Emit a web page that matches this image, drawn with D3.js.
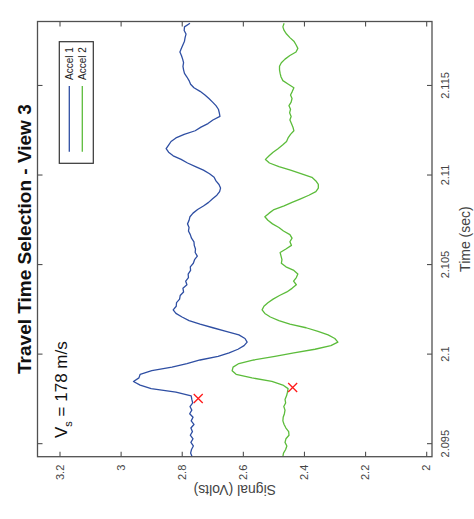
<!DOCTYPE html>
<html>
<head>
<meta charset="utf-8">
<script src="https://cdn.jsdelivr.net/npm/d3@7"></script>
<style>
  html, body { margin: 0; padding: 0; background: #fff; }
  svg { display: block; font-family: "Liberation Sans", Arial, Helvetica, sans-serif; }
</style>
</head>
<body>
<svg id="chart" width="474" height="519"></svg>
<script>
// ---- data ----
const titleText = "Travel Time Selection - View 3";
const xLabel = "Time (sec)";
const yLabel = "Signal (Volts)";
const seriesNames = ["Accel 1", "Accel 2"];
const seriesColors = ["#2f4fa3", "#5cbc3b"];

const timeTicks = [2.095, 2.1, 2.105, 2.11, 2.115];
const timeTickLabels = ["2.095", "2.1", "2.105", "2.11", "2.115"];
const signalTicks = [2, 2.2, 2.4, 2.6, 2.8, 3, 3.2];
const signalTickLabels = ["2", "2.2", "2.4", "2.6", "2.8", "3", "3.2"];

const time = [
  2.0943, 2.0945, 2.0947, 2.0949, 2.0951, 2.0953, 2.0955, 2.0957, 2.0959, 2.0961,
  2.0963, 2.0965, 2.0967, 2.0969, 2.0971, 2.0973, 2.0975, 2.0977, 2.0979, 2.0981,
  2.0983, 2.0985, 2.0987, 2.0989, 2.0991, 2.0993, 2.0995, 2.0997, 2.0999, 2.1001,
  2.1003, 2.1005, 2.1007, 2.1009, 2.1011, 2.1013, 2.1015, 2.1017, 2.1019, 2.1021,
  2.1023, 2.1025, 2.1027, 2.1029, 2.1031, 2.1033, 2.1035, 2.1037, 2.1039, 2.1041,
  2.1043, 2.1045, 2.1047, 2.1049, 2.1051, 2.1053, 2.1055, 2.1057, 2.1059, 2.1061,
  2.1063, 2.1065, 2.1067, 2.1069, 2.1071, 2.1073, 2.1075, 2.1077, 2.1079, 2.1081,
  2.1083, 2.1085, 2.1087, 2.1089, 2.1091, 2.1093, 2.1095, 2.1097, 2.1099, 2.1101,
  2.1103, 2.1105, 2.1107, 2.1109, 2.1111, 2.1113, 2.1115, 2.1117, 2.1119, 2.1121,
  2.1123, 2.1125, 2.1127, 2.1129, 2.1131, 2.1133, 2.1135, 2.1137, 2.1139, 2.1141,
  2.1143, 2.1145, 2.1147, 2.1149, 2.1151, 2.1153, 2.1155, 2.1157, 2.1159, 2.1161,
  2.1163, 2.1165, 2.1167, 2.1169, 2.1171, 2.1173, 2.1175, 2.1177, 2.1179, 2.1181,
  2.1183, 2.1185
];

const accel1 = [
  2.766, 2.771, 2.768, 2.762, 2.770, 2.763, 2.772, 2.765, 2.770, 2.760,
  2.769, 2.763, 2.774, 2.767, 2.773, 2.764, 2.767, 2.769, 2.819, 2.900,
  2.936, 2.958, 2.940, 2.936, 2.898, 2.832, 2.783, 2.740, 2.681, 2.645,
  2.616, 2.596, 2.586, 2.593, 2.613, 2.655, 2.698, 2.740, 2.776, 2.799,
  2.819, 2.828, 2.818, 2.817, 2.807, 2.805, 2.794, 2.796, 2.783, 2.787,
  2.778, 2.779, 2.771, 2.772, 2.762, 2.758, 2.749, 2.756, 2.755, 2.759,
  2.760, 2.768, 2.772, 2.778, 2.776, 2.781, 2.776, 2.773, 2.763, 2.748,
  2.729, 2.712, 2.699, 2.685, 2.676, 2.673, 2.678, 2.688, 2.694, 2.709,
  2.729, 2.755, 2.781, 2.802, 2.828, 2.843, 2.851, 2.843, 2.835, 2.819,
  2.792, 2.756, 2.737, 2.714, 2.698, 2.675, 2.677, 2.680, 2.688, 2.699,
  2.711, 2.724, 2.740, 2.760, 2.771, 2.776, 2.783, 2.791, 2.794, 2.796,
  2.794, 2.797, 2.801, 2.806, 2.801, 2.796, 2.791, 2.789, 2.786, 2.792,
  2.791, 2.773
];

const accel2 = [
  2.469, 2.467, 2.460, 2.456, 2.462, 2.459, 2.449, 2.450, 2.459, 2.465,
  2.469, 2.468, 2.464, 2.462, 2.466, 2.460, 2.462, 2.457, 2.454, 2.452,
  2.469, 2.505, 2.570, 2.622, 2.635, 2.632, 2.613, 2.564, 2.495, 2.433,
  2.364, 2.312, 2.289, 2.299, 2.321, 2.354, 2.393, 2.446, 2.482, 2.510,
  2.528, 2.537, 2.531, 2.518, 2.501, 2.480, 2.456, 2.439, 2.425, 2.434,
  2.425, 2.420, 2.433, 2.459, 2.474, 2.472, 2.475, 2.478, 2.459, 2.441,
  2.446, 2.439, 2.446, 2.467, 2.482, 2.503, 2.518, 2.528, 2.514, 2.498,
  2.465, 2.439, 2.411, 2.384, 2.361, 2.353, 2.353, 2.361, 2.374, 2.410,
  2.444, 2.482, 2.513, 2.526, 2.514, 2.501, 2.485, 2.470, 2.457, 2.452,
  2.444, 2.433, 2.436, 2.441, 2.446, 2.442, 2.447, 2.444, 2.449, 2.442,
  2.439, 2.444, 2.438, 2.433, 2.451, 2.469, 2.475, 2.478, 2.480, 2.480,
  2.474, 2.462, 2.446, 2.426, 2.420, 2.426, 2.433, 2.446, 2.457, 2.465,
  2.469, 2.465
];

// picked arrival points (red crosses)
const pickTimes = [2.09755, 2.09816];
const pickValues = [2.746, 2.437];

const annotationMain = "V";
const annotationSub = "s";
const annotationRest = " = 178 m/s";

// ---- layout (drawn in the figure's own orientation, then rotated 90° CCW) ----
const W = 519, H = 474;            // un-rotated figure size
const plot = { left: 62.3, right: 497.5, top: 37.5, bottom: 432 };
const frameColor = "#505050";
const textColor = "#444";

const svg = d3.select("#chart");
svg.append("rect").attr("width", 474).attr("height", 519).attr("fill", "#fff");

const fig = svg.append("g").attr("transform", `translate(0,${519}) rotate(-90)`);

const x = d3.scaleLinear().domain([2.0943, 2.1186]).range([plot.left, plot.right]);
const y = d3.scaleLinear().domain([1.981, 3.272]).range([plot.bottom, plot.top]);

fig.append("defs").append("clipPath").attr("id", "clip")
  .append("rect")
  .attr("x", plot.left).attr("y", plot.top)
  .attr("width", plot.right - plot.left).attr("height", plot.bottom - plot.top);

// axes
function styleAxis(g) {
  g.select(".domain").remove();
  g.selectAll(".tick line").attr("stroke", frameColor).attr("stroke-width", 1.1);
  g.selectAll(".tick text").attr("fill", textColor).attr("font-size", "11px")
    .attr("font-family", "'Liberation Sans', Arial, Helvetica, sans-serif");
}

fig.append("g").attr("transform", `translate(0,${plot.bottom})`)
  .call(d3.axisBottom(x).tickValues(timeTicks).tickFormat((d, i) => timeTickLabels[i])
    .tickSizeInner(-5).tickSizeOuter(0).tickPadding(9))
  .call(styleAxis);

fig.append("g").attr("transform", `translate(0,${plot.top})`)
  .call(d3.axisTop(x).tickValues(timeTicks).tickFormat("")
    .tickSizeInner(-5).tickSizeOuter(0))
  .call(styleAxis);

fig.append("g").attr("transform", `translate(${plot.left},0)`)
  .call(d3.axisLeft(y).tickValues(signalTicks).tickFormat((d, i) => signalTickLabels[i])
    .tickSizeInner(-5).tickSizeOuter(0).tickPadding(8))
  .call(styleAxis);

fig.append("g").attr("transform", `translate(${plot.right},0)`)
  .call(d3.axisRight(y).tickValues(signalTicks).tickFormat("")
    .tickSizeInner(-5).tickSizeOuter(0))
  .call(styleAxis);

// lines
const series = [accel1, accel2];
const line = d3.line().x(d => x(d.t)).y(d => y(d.v));
const plotArea = fig.append("g").attr("clip-path", "url(#clip)");
series.forEach((vals, k) => {
  const pts = vals.map((v, i) => ({ t: time[i], v }));
  plotArea.append("path").datum(pts)
    .attr("d", line)
    .attr("fill", "none")
    .attr("stroke", seriesColors[k])
    .attr("stroke-width", 1.3)
    .attr("stroke-linejoin", "round");
});

// red crosses
pickTimes.forEach((t, i) => {
  const cx = x(t), cy = y(pickValues[i]), s = 4.5;
  fig.append("path")
    .attr("d", `M${cx - s},${cy - s}L${cx + s},${cy + s}M${cx - s},${cy + s}L${cx + s},${cy - s}`)
    .attr("stroke", "#ff1a1a").attr("stroke-width", 1.3).attr("fill", "none");
});

// frame
fig.append("rect")
  .attr("x", plot.left).attr("y", plot.top)
  .attr("width", plot.right - plot.left).attr("height", plot.bottom - plot.top)
  .attr("fill", "none").attr("stroke", frameColor).attr("stroke-width", 1.3);

// title
const cxPlot = (plot.left + plot.right) / 2;
fig.append("text")
  .attr("x", cxPlot).attr("y", 31)
  .attr("text-anchor", "middle")
  .attr("font-size", "19px").attr("font-weight", "bold").attr("fill", "#111")
  .text(titleText);

// axis labels
fig.append("text")
  .attr("x", cxPlot).attr("y", 470)
  .attr("text-anchor", "middle")
  .attr("font-size", "14px").attr("fill", textColor)
  .text(xLabel);

fig.append("text")
  .attr("transform", `translate(34,${(plot.top + plot.bottom) / 2}) rotate(-90)`)
  .attr("text-anchor", "middle")
  .attr("font-size", "14px").attr("fill", textColor)
  .text(yLabel);

// annotation V_s = 178 m/s
const ann = fig.append("text").attr("x", 81).attr("y", 67)
  .attr("font-size", "17px").attr("fill", "#111");
ann.append("tspan").text(annotationMain);
ann.append("tspan").attr("font-size", "11px").attr("dy", 5).text(annotationSub);
ann.append("tspan").attr("dy", -5).text(annotationRest);

// legend
const lg = { x0: 355.7, x1: 477.3, y0: 59.3, y1: 93.3 };
fig.append("rect")
  .attr("x", lg.x0).attr("y", lg.y0)
  .attr("width", lg.x1 - lg.x0).attr("height", lg.y1 - lg.y0)
  .attr("fill", "#fff").attr("stroke", "#333").attr("stroke-width", 1.2);
const rowY = [69.3, 82.3];
seriesNames.forEach((name, k) => {
  fig.append("line")
    .attr("x1", 367.3).attr("x2", 433).attr("y1", rowY[k]).attr("y2", rowY[k])
    .attr("stroke", seriesColors[k]).attr("stroke-width", 1.3);
  fig.append("text")
    .attr("x", 439).attr("y", rowY[k] + 3.5)
    .attr("font-size", "10px").attr("fill", "#222")
    .text(name);
});
</script>
</body>
</html>
